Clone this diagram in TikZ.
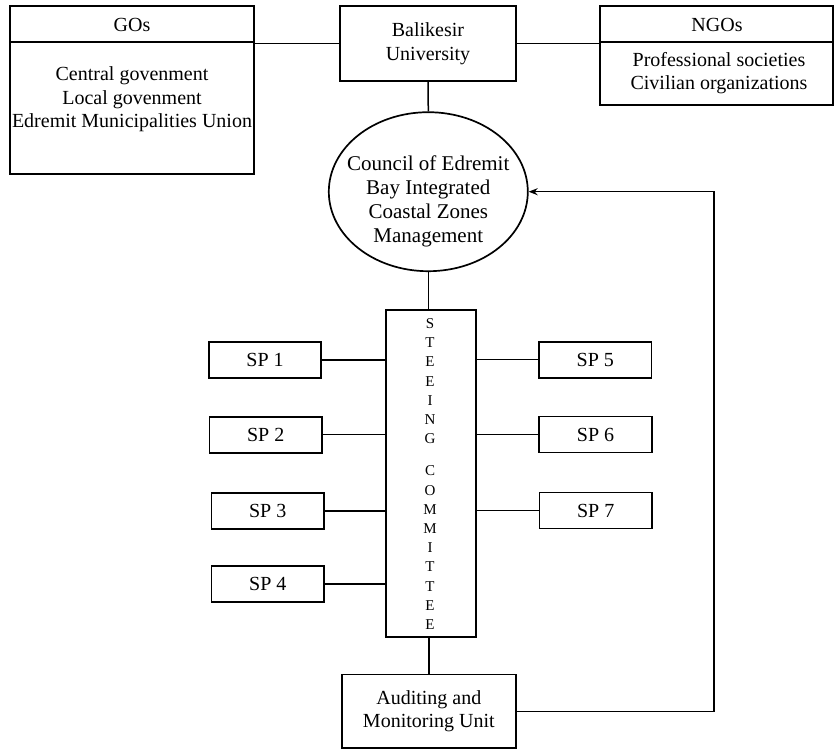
\documentclass[tikz,border=0pt]{standalone}
\usepackage{fontspec}
\setmainfont{Liberation Serif}
\usetikzlibrary{shapes.geometric,arrows.meta}
\begin{document}
\begin{tikzpicture}[x=1pt,y=-1pt,
  boxline/.style={draw=black,line width=1.7pt},
  sbox/.style={boxline,rectangle,inner sep=0pt,minimum width=112.5pt,minimum height=36pt,font=\fontsize{20}{23}\selectfont},
  conn/.style={draw=black,line width=1.5pt},
  txt/.style={inner sep=0pt,align=center,font=\fontsize{20}{23.5}\selectfont}]
\useasboundingbox (0,0) rectangle (834,749);
% top boxes
\node[boxline,rectangle,inner sep=0pt,minimum width=244pt,minimum height=168pt] (gos) at (132,90) {};
\node[boxline,rectangle,inner sep=0pt,minimum width=176pt,minimum height=75pt,txt] (bal) at (428,43.5) {Balikesir\\University};
\node[boxline,rectangle,inner sep=0pt,minimum width=233pt,minimum height=99pt] (ngos) at (716.5,55.5) {};
\draw[boxline] ([yshift=-37pt]gos.north west) -- ([yshift=-37pt]gos.north east);
\draw[boxline] ([yshift=-37pt]ngos.north west) -- ([yshift=-37pt]ngos.north east);
\node[txt] (gost) at (132,25) {GOs};
\node[txt] (gosl) at (132,99.5) {Central govenment\\Local govenment\\Edremit Municipalities Union};
\node[txt] (ngost) at (717,25) {NGOs};
\node[txt] (ngosl) at (719,73) {Professional societies\\Civilian organizations};
% ellipse
\node[boxline,ellipse,inner sep=0pt,minimum width=199pt,minimum height=159pt] (ell) at (428.3,191.7) {};
\node[txt,font=\fontsize{21}{24}\selectfont] (ellt) at (428.3,201) {Council of Edremit\\Bay Integrated\\Coastal Zones\\Management};
% steering committee
\node[boxline,rectangle,inner sep=0pt,minimum width=90pt,minimum height=327pt] (steer) at (431,473.5) {};
\node[inner sep=0pt,align=center,font=\fontsize{15}{19.2}\selectfont] (steert) at (430,474) {S\\T\\E\\E\\I\\N\\G\\[13pt]C\\O\\M\\M\\I\\T\\T\\E\\E};
% SP boxes
\node[sbox] (sp1) at (265,360) {SP 1};
\node[sbox] (sp2) at (265.7,434.7) {SP 2};
\node[sbox] (sp3) at (267.7,510.8) {SP 3};
\node[sbox] (sp4) at (267.8,583.8) {SP 4};
\node[sbox] (sp5) at (595.3,359.7) {SP 5};
\node[sbox] (sp6) at (595.5,434.5) {SP 6};
\node[sbox] (sp7) at (595.7,510.5) {SP 7};
% auditing
\node[boxline,rectangle,inner sep=0pt,minimum width=174pt,minimum height=73.5pt,txt] (aud) at (428.8,711.3) {Auditing and\\Monitoring Unit};
% connectors
\draw[conn] (bal.west) -- (bal.west -| gos.east);
\draw[conn] (bal.east) -- (bal.east -| ngos.west);
\draw[conn] (bal.south) -- (ell.north);
\draw[conn] (ell.south) -- (ell.south |- steer.north);
\draw[conn] (aud.north) -- (aud.north |- steer.south);
\foreach \s in {sp1,sp2,sp3,sp4}{\draw[conn] (\s.east) -- (\s.east -| steer.west);}
\foreach \s in {sp5,sp6,sp7}{\draw[conn] (\s.west) -- (\s.west -| steer.east);}
\coordinate (rt) at (714,711.3);
\draw[conn,-{Stealth[length=9pt,width=7pt]}] (aud.east) -- (rt) |- (ell.east);
\end{tikzpicture}
\end{document}
